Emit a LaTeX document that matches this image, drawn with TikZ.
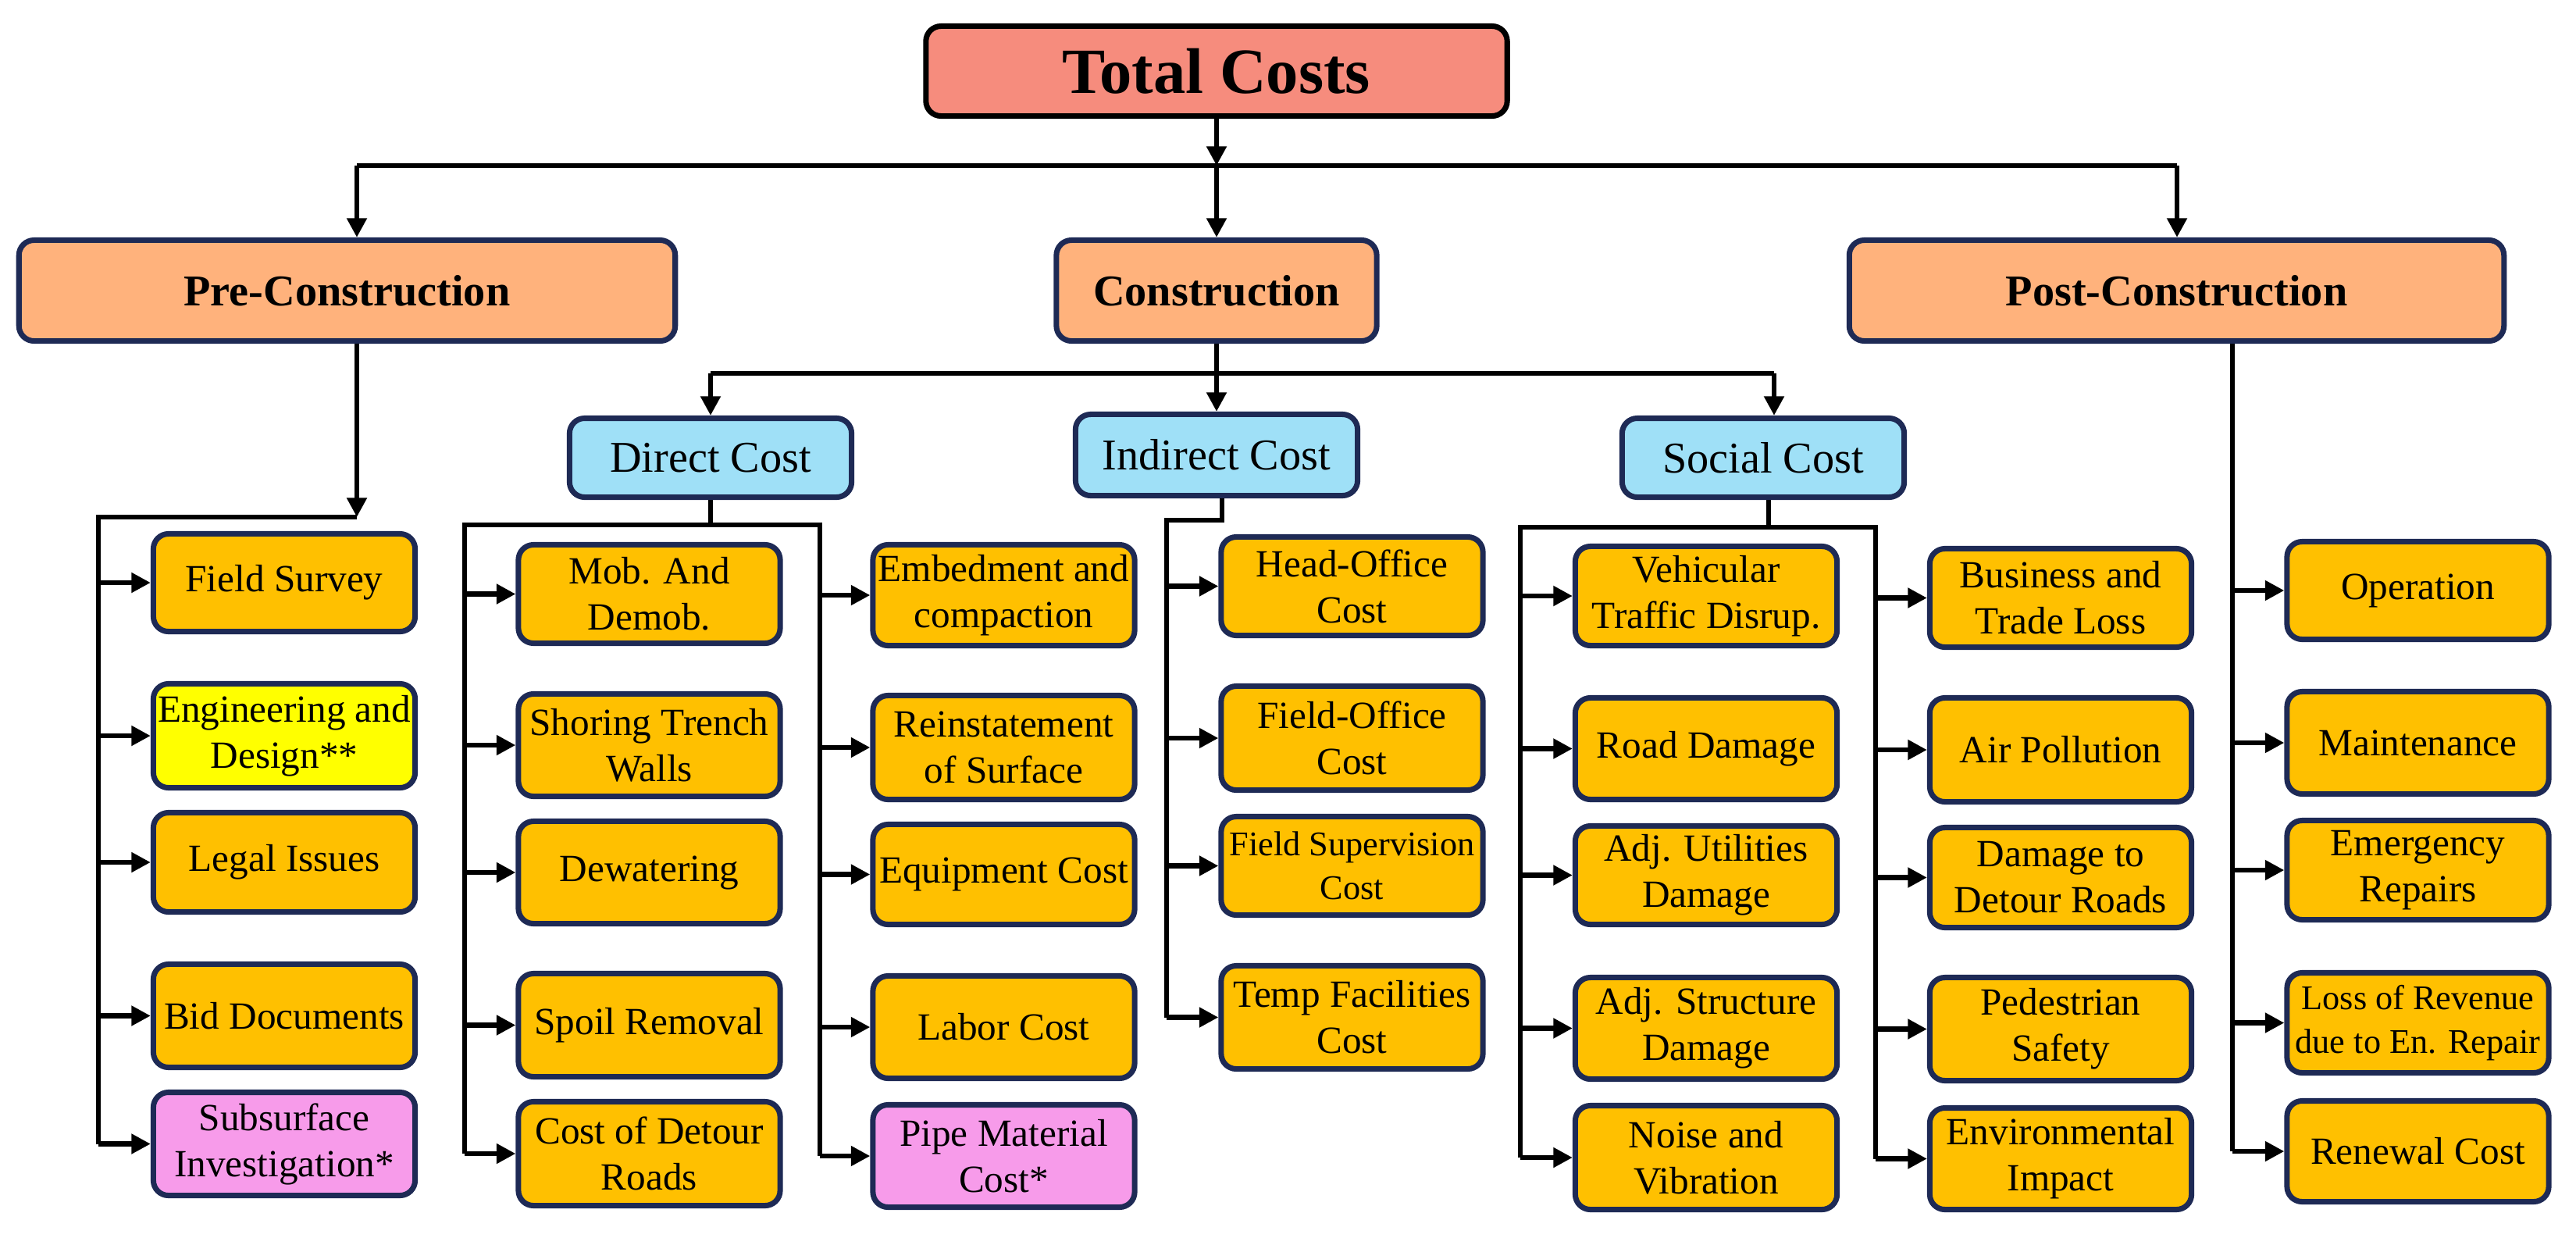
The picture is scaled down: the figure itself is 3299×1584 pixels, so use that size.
\documentclass[tikz,border=0pt]{standalone}
\usepackage{fontspec}
\setmainfont{Liberation Serif}
\usetikzlibrary{arrows.meta}
\definecolor{navy}{RGB}{30,42,85}
\definecolor{totalc}{RGB}{246,140,125}
\definecolor{phasec}{RGB}{255,178,124}
\definecolor{catc}{RGB}{159,224,247}
\definecolor{leafc}{RGB}{255,192,0}
\definecolor{yelc}{RGB}{255,255,0}
\definecolor{pinkc}{RGB}{247,155,234}
\begin{document}
\begin{tikzpicture}[x=0.01cm,y=-0.01cm,
  conn/.style={line width=1.8pt, black, line join=miter},
  arrw/.style={conn, -{Triangle[length=7pt,width=7pt]}},
  basebox/.style={draw=navy, line width=2pt, rounded corners=5.5pt, align=center, inner sep=1pt},
  totalbox/.style={basebox, draw=black, fill=totalc, minimum width=7.44cm, minimum height=1.15cm, font=\rmfamily\fontsize{23.5pt}{28pt}\selectfont\bfseries},
  phasebox/.style={basebox, fill=phasec, minimum height=1.29cm, font=\rmfamily\fontsize{16pt}{19pt}\selectfont\bfseries},
  catbox/.style={basebox, fill=catc, minimum width=3.61cm, font=\rmfamily\fontsize{16pt}{19pt}\selectfont},
  leaf/.style={basebox, fill=leafc, minimum width=3.35cm, font=\rmfamily\fontsize{14pt}{16.8pt}\selectfont},
  smalltxt/.style={font=\rmfamily\fontsize{12.6pt}{16pt}\selectfont},
]
\useasboundingbox (0,0) rectangle (3299,1584);

% ---- top levels ----
\node[totalbox] (T) at (1558,91) {Total Costs};
\node[phasebox, minimum width=8.40cm] (Pre) at (444.5,372) {Pre-Construction};
\node[phasebox, minimum width=4.10cm] (Con) at (1558,372) {Construction};
\node[phasebox, minimum width=8.38cm] (Post) at (2787.5,372) {Post-Construction};

\node[catbox, minimum height=1.01cm] (Dir) at (910,586) {Direct Cost};
\node[catbox, minimum height=1.04cm] (Ind) at (1558,582.5) {Indirect Cost};
\node[catbox, minimum height=1.01cm] (Soc) at (2258,586) {Social Cost};

% ---- pre-construction leaves ----
\node[leaf, minimum height=1.25cm] (fs) at (364,746) {Field Survey};
\node[leaf, fill=yelc, minimum height=1.33cm] (en) at (364,942) {Engineering and\\Design**};
\node[leaf, minimum height=1.27cm] (li) at (364,1104) {Legal Issues};
\node[leaf, minimum height=1.32cm] (bd) at (364,1300.5) {Bid Documents};
\node[leaf, fill=pinkc, minimum height=1.32cm] (si) at (364,1464.5) {Subsurface\\Investigation*};

% ---- direct cost leaves ----
\node[leaf, minimum height=1.26cm] (mob) at (831.5,760.5) {Mob. And\\Demob.};
\node[leaf, minimum height=1.31cm] (sho) at (831.5,954) {Shoring Trench\\Walls};
\node[leaf, minimum height=1.31cm] (dew) at (831.5,1117) {Dewatering};
\node[leaf, minimum height=1.32cm] (spo) at (831.5,1312.5) {Spoil Removal};
\node[leaf, minimum height=1.33cm] (cdr) at (831.5,1477) {Cost of Detour\\Roads};

\node[leaf, minimum height=1.29cm] (emb) at (1285.5,762) {Embedment and\\compaction};
\node[leaf, minimum height=1.33cm] (rei) at (1285.5,957) {Reinstatement\\of Surface};
\node[leaf, minimum height=1.28cm] (equ) at (1285.5,1119.5) {Equipment Cost};
\node[leaf, minimum height=1.31cm] (lab) at (1285.5,1315) {Labor Cost};
\node[leaf, fill=pinkc, minimum height=1.31cm] (pip) at (1285.5,1480) {Pipe Material\\Cost*};

% ---- indirect cost leaves ----
\node[leaf, minimum height=1.26cm] (hoc) at (1731.5,750.5) {Head-Office\\Cost};
\node[leaf, minimum height=1.33cm] (foc) at (1731.5,945) {Field-Office\\Cost};
\node[leaf, smalltxt, minimum height=1.26cm] (fsc) at (1731.5,1108.5) {Field Supervision\\Cost};
\node[leaf, minimum height=1.32cm] (tfc) at (1731.5,1302.5) {Temp Facilities\\Cost};

% ---- social cost leaves ----
\node[leaf, minimum height=1.27cm] (veh) at (2185,763) {Vehicular\\Traffic Disrup.};
\node[leaf, minimum height=1.30cm] (rod) at (2185,958.5) {Road Damage};
\node[leaf, minimum height=1.26cm] (adu) at (2185,1120.5) {Adj. Utilities\\Damage};
\node[leaf, minimum height=1.30cm] (ads) at (2185,1316.5) {Adj. Structure\\Damage};
\node[leaf, minimum height=1.33cm] (noi) at (2185,1482) {Noise and\\Vibration};

\node[leaf, minimum height=1.26cm] (bus) at (2639,765.5) {Business and\\Trade Loss};
\node[leaf, minimum height=1.33cm] (air) at (2639,960) {Air Pollution};
\node[leaf, minimum height=1.28cm] (ddr) at (2639,1123.5) {Damage to\\Detour Roads};
\node[leaf, minimum height=1.32cm] (ped) at (2639,1317.5) {Pedestrian\\Safety};
\node[leaf, minimum height=1.30cm] (env) at (2639,1483.5) {Environmental\\Impact};

% ---- post-construction leaves ----
\node[leaf, minimum height=1.25cm] (ope) at (3096.5,756) {Operation};
\node[leaf, minimum height=1.31cm] (mai) at (3096.5,951) {Maintenance};
\node[leaf, minimum height=1.27cm] (emr) at (3096.5,1114) {Emergency\\Repairs};
\node[leaf, smalltxt, minimum height=1.28cm] (lor) at (3096.5,1309.5) {Loss of Revenue\\due to En. Repair};
\node[leaf, minimum height=1.29cm] (ren) at (3096.5,1474) {Renewal Cost};

% ---- junction coordinates ----
\coordinate (topM) at (1558,212);
\coordinate (topL) at (457,212);
\coordinate (topR) at (2788,212);
\coordinate (midM) at (1558,478);
\coordinate (midL) at (910,478);
\coordinate (midR) at (2272,478);
\coordinate (preX) at (457,662);
\coordinate (preL) at (126,662);
\coordinate (dirL) at (595,672);
\coordinate (dirR) at (1050,672);
\coordinate (indX) at (1565,666);
\coordinate (indL) at (1494,666);
\coordinate (socX) at (2265,675);
\coordinate (socL) at (1947,675);
\coordinate (socR) at (2402,675);
\coordinate (posX) at (2859,440);

% ---- level 1 connectors ----
\draw[arrw] (T.south) -- (topM);
\draw[conn] (topL) -- (topR);
\draw[arrw] (topM) -- (topM |- Con.north);
\draw[arrw] (topL) -- (topL |- Pre.north);
\draw[arrw] (topR) -- (topR |- Post.north);

% ---- level 2 connectors ----
\draw[conn] (Con.south) -- (midM);
\draw[conn] (midL) -- (midR);
\draw[arrw] (midL) -- (midL |- Dir.north);
\draw[arrw] (midM) -- (midM |- Ind.north);
\draw[arrw] (midR) -- (midR |- Soc.north);

% ---- pre-construction branch ----
\draw[arrw] (preX |- Pre.south) -- (preX);
\draw[conn] (preX) -- (preL) -- (preL |- si.west);
\foreach \n in {fs,en,li,bd,si} \draw[arrw] (preL |- \n.west) -- (\n.west);

% ---- direct cost branch ----
\draw[conn] (Dir.south) -- (Dir.south |- dirL);
\draw[conn] (dirR |- pip.west) -- (dirR) -- (dirL) -- (dirL |- cdr.west);
\foreach \n in {mob,sho,dew,spo,cdr} \draw[arrw] (dirL |- \n.west) -- (\n.west);
\foreach \n in {emb,rei,equ,lab,pip} \draw[arrw] (dirR |- \n.west) -- (\n.west);

% ---- indirect cost branch ----
\draw[conn] (indX |- Ind.south) -- (indX) -- (indL) -- (indL |- tfc.west);
\foreach \n in {hoc,foc,fsc,tfc} \draw[arrw] (indL |- \n.west) -- (\n.west);

% ---- social cost branch ----
\draw[conn] (socX |- Soc.south) -- (socX);
\draw[conn] (socR |- env.west) -- (socR) -- (socL) -- (socL |- noi.west);
\foreach \n in {veh,rod,adu,ads,noi} \draw[arrw] (socL |- \n.west) -- (\n.west);
\foreach \n in {bus,air,ddr,ped,env} \draw[arrw] (socR |- \n.west) -- (\n.west);

% ---- post-construction branch ----
\draw[conn] (posX |- Post.south) -- (posX |- ren.west);
\foreach \n in {ope,mai,emr,lor,ren} \draw[arrw] (posX |- \n.west) -- (\n.west);
\end{tikzpicture}
\end{document}
